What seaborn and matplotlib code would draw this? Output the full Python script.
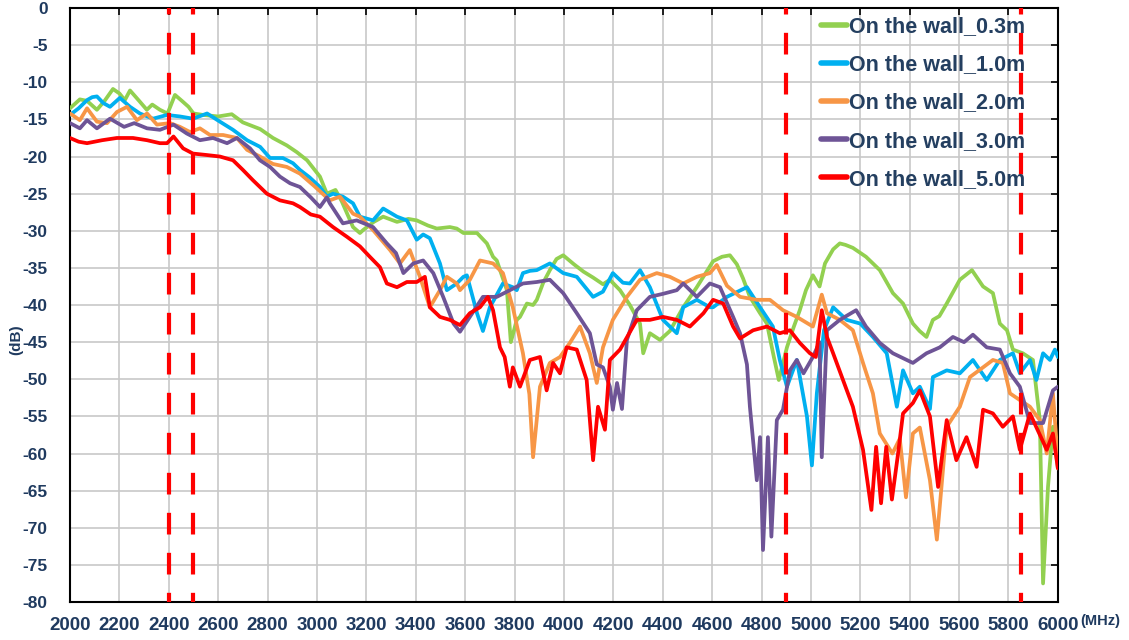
import numpy as np
import pandas as pd
import seaborn as sns
import matplotlib.pyplot as plt

# ---- data ----
labels = ["On the wall_0.3m", "On the wall_1.0m", "On the wall_2.0m",
          "On the wall_3.0m", "On the wall_5.0m"]
colors = ["#92D050", "#00B0F0", "#F79646", "#6E5496", "#FF0000"]

f_03 = [2000, 2040, 2069, 2109, 2140, 2174, 2200, 2222, 2243, 2280, 2311, 2333, 2364, 2395,
        2425, 2453, 2480, 2500, 2540, 2600, 2655, 2700, 2770, 2822, 2878, 2918, 2960, 3012,
        3040, 3075, 3100, 3146, 3174, 3187, 3230, 3268, 3324, 3370, 3404, 3450, 3485, 3538,
        3566, 3593, 3648, 3688, 3713, 3728, 3769, 3785, 3809, 3822, 3850, 3875, 3890, 3916,
        3943, 3970, 3997, 4040, 4079, 4118, 4158, 4186, 4227, 4267, 4308, 4321, 4348, 4389,
        4429, 4483, 4538, 4604, 4640, 4672, 4700, 4725, 4753, 4794, 4822, 4850, 4870, 4903,
        4930, 4955, 4980, 5008, 5035, 5057, 5090, 5117, 5140, 5170, 5223, 5279, 5332, 5373,
        5413, 5440, 5468, 5494, 5520, 5550, 5603, 5652, 5697, 5737, 5765, 5794, 5818, 5858,
        5899, 5927, 5940, 5960, 5980, 6000]
db_03 = [-13.5, -12.3, -12.5, -13.7, -12.5, -10.9, -11.5, -12.4, -11.1, -12.5, -13.7, -13.0, -13.7, -14.2,
         -11.7, -12.5, -13.3, -14.2, -14.4, -14.6, -14.3, -15.4, -16.3, -17.5, -18.5, -19.4, -20.5, -22.7,
         -25.0, -24.5, -26.0, -29.5, -30.3, -29.9, -28.8, -28.1, -28.8, -28.4, -28.6, -29.3, -29.7, -29.5,
         -29.7, -30.3, -30.3, -31.7, -33.5, -34.0, -38.0, -45.0, -42.0, -41.6, -39.8, -40.0, -39.3, -37.0,
         -35.3, -33.8, -33.3, -34.5, -35.5, -36.3, -37.2, -36.6, -38.0, -40.0, -42.5, -46.5, -43.8, -44.7,
         -43.5, -40.3, -37.6, -34.1, -33.5, -33.3, -34.5, -36.4, -38.9, -41.1, -42.5, -47.0, -50.1, -45.7,
         -43.0, -40.7, -38.0, -36.0, -37.5, -34.4, -32.5, -31.7, -31.9, -32.3, -33.5, -35.3, -38.4, -39.8,
         -42.5, -43.5, -44.3, -42.0, -41.5, -39.8, -36.6, -35.3, -37.5, -38.4, -42.5, -43.4, -46.0, -46.5,
         -47.4, -55.5, -77.5, -64.5, -56.4, -62.0]

f_10 = [2000, 2035, 2069, 2090, 2109, 2135, 2162, 2202, 2243, 2283, 2336, 2393, 2445, 2498, 2555,
        2607, 2660, 2717, 2770, 2810, 2862, 2903, 2931, 2970, 3012, 3040, 3065, 3105, 3146, 3174,
        3227, 3268, 3324, 3364, 3404, 3430, 3457, 3498, 3526, 3566, 3593, 3607, 3648, 3672, 3700,
        3730, 3753, 3793, 3809, 3834, 3862, 3890, 3943, 3997, 4052, 4118, 4158, 4198, 4239, 4267,
        4308, 4348, 4401, 4457, 4483, 4538, 4591, 4604, 4660, 4741, 4794, 4846, 4874, 4903, 4943,
        4984, 5004, 5024, 5053, 5090, 5145, 5200, 5251, 5307, 5348, 5373, 5413, 5441, 5482, 5494,
        5550, 5603, 5656, 5712, 5765, 5818, 5846, 5887, 5913, 5940, 5968, 5988, 6000]
db_10 = [-14.4, -13.5, -12.4, -12.0, -11.9, -12.8, -13.3, -12.1, -13.3, -14.2, -14.9, -14.4, -14.6, -14.9, -14.2,
         -15.3, -16.4, -17.8, -18.7, -20.2, -20.2, -20.9, -21.8, -22.8, -24.1, -25.4, -25.0, -25.4, -26.3, -28.1,
         -28.6, -27.0, -28.1, -28.6, -31.2, -30.5, -31.0, -34.4, -38.0, -37.1, -36.2, -36.0, -41.1, -43.5, -40.3,
         -38.5, -37.1, -37.6, -38.0, -35.7, -35.4, -35.3, -34.4, -35.7, -36.2, -38.9, -38.2, -35.7, -37.0, -37.1,
         -35.3, -37.6, -42.0, -43.8, -40.3, -39.3, -40.3, -40.3, -38.9, -37.6, -40.3, -42.9, -47.4, -51.0, -47.4,
         -55.0, -61.6, -51.9, -43.4, -40.3, -42.0, -42.5, -44.3, -46.5, -53.7, -48.8, -51.9, -51.0, -54.0, -49.7,
         -48.8, -49.2, -47.4, -50.1, -47.4, -46.5, -49.2, -47.4, -50.1, -46.5, -47.4, -46.0, -47.0]

f_20 = [2000, 2040, 2069, 2109, 2150, 2190, 2231, 2271, 2312, 2352, 2405, 2445, 2486, 2526, 2567,
        2620, 2676, 2717, 2769, 2822, 2878, 2931, 2990, 3052, 3093, 3146, 3174, 3227, 3296, 3336,
        3376, 3417, 3457, 3498, 3526, 3566, 3579, 3619, 3660, 3713, 3753, 3793, 3834, 3860, 3875,
        3903, 3943, 3984, 4024, 4065, 4105, 4133, 4158, 4198, 4255, 4308, 4376, 4429, 4483, 4538,
        4591, 4619, 4660, 4713, 4781, 4834, 4887, 4943, 5008, 5044, 5065, 5117, 5170, 5211, 5251,
        5279, 5330, 5360, 5385, 5413, 5441, 5482, 5510, 5550, 5603, 5644, 5697, 5737, 5777, 5806,
        5846, 5887, 5927, 5955, 5980, 6000]
db_20 = [-14.2, -15.1, -13.5, -15.3, -15.5, -14.0, -13.3, -15.1, -14.2, -15.7, -15.5, -16.0, -16.7, -16.2, -17.1,
         -17.1, -17.5, -19.1, -20.0, -21.0, -21.4, -22.3, -24.0, -25.9, -25.4, -27.7, -28.1, -29.9, -32.6, -34.4,
         -32.6, -36.2, -40.3, -38.0, -36.2, -37.1, -38.0, -36.6, -34.0, -34.4, -35.7, -40.3, -46.5, -52.0, -60.5,
         -51.0, -47.8, -47.0, -45.1, -42.9, -46.5, -50.5, -45.7, -42.0, -38.9, -36.6, -35.7, -36.2, -37.1, -36.2,
         -35.7, -34.6, -37.4, -38.9, -39.3, -39.3, -40.7, -41.6, -42.9, -38.6, -41.1, -42.0, -43.4, -47.8, -51.9,
         -57.3, -60.0, -58.0, -65.9, -57.3, -56.5, -63.6, -71.6, -56.4, -53.7, -49.7, -48.4, -47.4, -47.8, -51.9,
         -52.8, -53.7, -55.5, -60.0, -51.9, -61.0]

f_30 = [2000, 2040, 2069, 2109, 2162, 2219, 2260, 2312, 2364, 2419, 2473, 2526, 2579, 2636, 2676,
        2729, 2769, 2810, 2850, 2891, 2931, 2975, 3012, 3040, 3052, 3105, 3161, 3227, 3283, 3320,
        3350, 3390, 3430, 3471, 3511, 3553, 3579, 3619, 3672, 3728, 3781, 3834, 3890, 3943, 3997,
        4052, 4105, 4133, 4158, 4186, 4198, 4215, 4235, 4255, 4295, 4348, 4400, 4457, 4483, 4538,
        4591, 4632, 4685, 4713, 4741, 4753, 4781, 4794, 4806, 4826, 4840, 4862, 4887, 4915, 4943,
        4970, 5008, 5035, 5044, 5065, 5117, 5183, 5223, 5279, 5332, 5413, 5468, 5522, 5575, 5620,
        5656, 5712, 5765, 5806, 5846, 5887, 5940, 5980, 6000]
db_30 = [-15.5, -16.2, -15.1, -16.2, -14.9, -16.0, -15.5, -16.2, -16.4, -15.7, -16.9, -17.8, -17.5, -18.2, -17.5,
         -18.9, -20.5, -21.4, -22.7, -23.6, -24.1, -25.5, -26.8, -25.5, -26.3, -29.0, -28.6, -29.5, -31.7, -33.0,
         -35.7, -34.4, -34.0, -35.7, -38.9, -42.5, -43.6, -41.6, -38.9, -38.9, -38.0, -37.1, -36.9, -36.6, -38.4,
         -41.1, -43.8, -48.0, -48.4, -51.0, -54.1, -50.5, -54.0, -44.7, -40.7, -38.9, -38.5, -38.0, -37.1, -38.9,
         -37.1, -37.6, -41.6, -43.8, -48.0, -53.7, -63.6, -57.8, -73.0, -57.8, -71.2, -55.5, -54.1, -48.8, -47.4,
         -49.2, -47.0, -45.0, -60.5, -43.4, -42.0, -40.7, -42.9, -45.1, -46.5, -47.8, -46.5, -45.7, -44.3, -45.0,
         -44.0, -45.7, -46.0, -49.2, -51.0, -55.9, -55.9, -51.5, -51.0]

f_50 = [2000, 2035, 2069, 2130, 2190, 2255, 2312, 2364, 2393, 2419, 2458, 2498, 2555, 2607, 2660,
        2700, 2741, 2797, 2850, 2903, 2931, 2975, 3012, 3065, 3121, 3174, 3214, 3255, 3283, 3324,
        3364, 3404, 3437, 3457, 3498, 3538, 3579, 3619, 3660, 3692, 3713, 3741, 3760, 3781, 3793,
        3822, 3862, 3903, 3930, 3956, 3984, 4011, 4052, 4092, 4105, 4118, 4138, 4166, 4186, 4227,
        4295, 4348, 4401, 4457, 4510, 4565, 4604, 4645, 4685, 4713, 4766, 4822, 4874, 4915, 4955,
        4996, 5020, 5044, 5065, 5090, 5130, 5170, 5211, 5245, 5264, 5284, 5305, 5328, 5353, 5373,
        5413, 5441, 5482, 5515, 5550, 5589, 5630, 5671, 5697, 5737, 5777, 5818, 5846, 5887, 5955,
        5980, 6000]
db_50 = [-17.5, -18.0, -18.2, -17.8, -17.5, -17.5, -17.8, -18.2, -18.2, -17.3, -18.9, -19.6, -19.8, -20.0, -20.5,
         -21.8, -23.2, -25.0, -25.9, -26.3, -26.8, -27.8, -28.1, -29.5, -30.8, -32.1, -33.5, -34.9, -37.1, -37.6,
         -36.9, -36.9, -36.2, -40.3, -41.6, -42.0, -42.7, -41.1, -40.3, -38.9, -40.7, -45.7, -47.0, -51.0, -48.4,
         -51.0, -47.4, -47.0, -51.5, -47.8, -49.2, -45.7, -46.0, -50.1, -55.5, -60.9, -53.7, -56.8, -47.4, -46.0,
         -42.0, -42.0, -41.6, -42.0, -42.9, -41.1, -39.3, -39.8, -42.9, -44.5, -43.4, -42.9, -43.8, -43.4, -45.1,
         -46.5, -47.0, -40.7, -44.3, -46.5, -50.1, -53.7, -59.5, -67.6, -59.1, -66.7, -59.1, -66.2, -60.0, -54.6,
         -53.2, -51.5, -55.0, -64.5, -55.5, -60.9, -57.8, -61.8, -54.1, -54.6, -56.4, -55.0, -59.5, -54.6, -59.5,
         -57.3, -62.0]

band_edges = [2400, 2500, 4900, 5850]
x_ticks = list(range(2000, 6001, 200))
y_ticks = list(range(-80, 1, 5))

freqs = [f_03, f_10, f_20, f_30, f_50]
dbs = [db_03, db_10, db_20, db_30, db_50]
df = pd.concat([pd.DataFrame({"freq": f, "dB": d, "series": lab})
                for f, d, lab in zip(freqs, dbs, labels)], ignore_index=True)

sns.set_style("white")
plt.rcParams["font.family"] = ["Liberation Sans", "DejaVu Sans"]
txt_col = "#1F3A5F"

fig = plt.figure(figsize=(11.29, 6.4), dpi=100)
ax = fig.add_axes([0.062, 0.0594, 0.875, 0.928])

sns.lineplot(data=df, x="freq", y="dB", hue="series", hue_order=labels,
             palette=dict(zip(labels, colors)), estimator=None, sort=False,
             linewidth=2.7, ax=ax, zorder=3)

# band edge markers
for b in band_edges:
    ax.axvline(b, color="#FF0000", lw=3, linestyle=(3, (5.2, 4.4)), zorder=5)

ax.set_xlim(2000, 6000)
ax.set_ylim(-80, 0)
ax.set_xticks(x_ticks)
ax.set_yticks(y_ticks)
ax.set_xticklabels([str(t) for t in x_ticks], fontsize=13.5, fontweight="bold", color=txt_col)
ax.set_yticklabels([str(t) for t in y_ticks], fontsize=12.5, fontweight="bold", color=txt_col)
ax.grid(True, color="#C8C8C8", lw=1.2, zorder=0)
ax.set_axisbelow(True)
ax.tick_params(direction="in", top=True, right=True, length=5, width=1.2,
               color="black")
ax.tick_params(axis="x", pad=11)
ax.tick_params(axis="y", pad=16)
for s in ax.spines.values():
    s.set_color("black")
    s.set_linewidth(1.5)
ax.set_xlabel("")
ax.set_ylabel("")

fig.text(0.957, 0.03, "(MHz)", fontsize=10.5, fontweight="bold", color=txt_col,
         ha="left", va="center")
fig.text(0.014, 0.47, "(dB)", fontsize=11, fontweight="bold", color=txt_col,
         rotation=90, ha="center", va="center")

handles, _ = ax.get_legend_handles_labels()
for h in handles:
    h.set_linewidth(4)
leg = ax.legend(handles, labels, loc="upper left", bbox_to_anchor=(0.716, 0.995),
                bbox_transform=fig.transFigure, frameon=False, borderpad=0.1,
                handlelength=1.2, handletextpad=0.1, labelspacing=0.8,
                prop={"weight": "bold", "size": 15.5})
for t in leg.get_texts():
    t.set_color("#243F60")

fig.savefig("out.png", dpi=100)
